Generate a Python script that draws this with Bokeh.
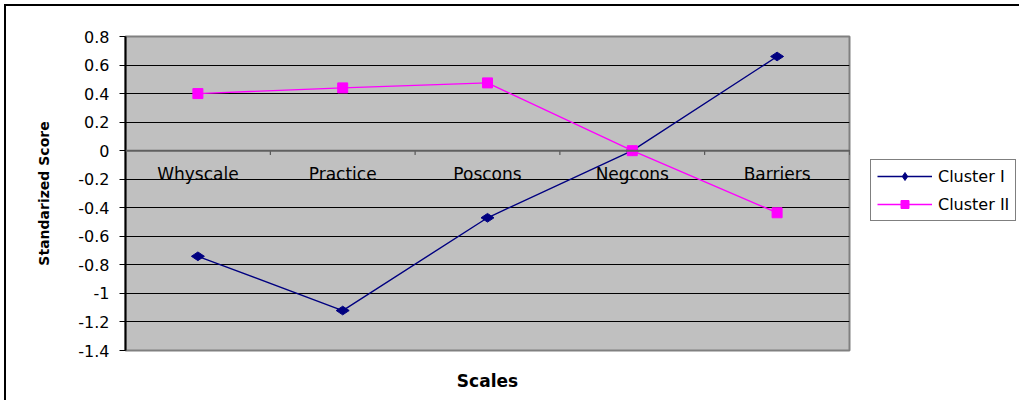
import numpy as np
from bokeh.plotting import figure
from bokeh.models import (ColumnDataSource, FixedTicker, CustomJSTickFormatter, Span,
                          Legend, LegendItem, InlineStyleSheet)
from bokeh.transform import dodge
from bokeh.core.properties import value
from bokeh.embed import file_html
from bokeh.resources import INLINE

# ---- data ----
categories = ["Whyscale", "Practice", "Poscons", "Negcons", "Barriers"]
cluster1 = [-0.74, -1.12, -0.47, 0.0, 0.66]
cluster2 = [0.40, 0.44, 0.475, 0.0, -0.435]
y_ticks = [-1.4, -1.2, -1.0, -0.8, -0.6, -0.4, -0.2, 0.0, 0.2, 0.4, 0.6, 0.8]
series_names = ["Cluster I", "Cluster II"]

src = ColumnDataSource(dict(cat=categories, c1=cluster1, c2=cluster2,
                            zero=[0.0] * len(categories),
                            tick_end=[-0.03] * len(categories)))

FONT = "DejaVu Sans"

p = figure(x_range=categories, y_range=(-1.4, 0.8),
           frame_width=724, frame_height=314,
           output_backend="svg", toolbar_location=None,
           min_border_left=119, min_border_right=158,
           min_border_top=30, min_border_bottom=50)
p.x_range.range_padding = 0
p.stylesheets = [InlineStyleSheet(css=":host { margin-left: 4px; margin-top: 4px; "
                                      "border-left: 2px solid black; border-top: 2px solid black; }")]

p.background_fill_color = "#C0C0C0"
p.border_fill_color = "white"
p.outline_line_color = "#808080"
p.outline_line_width = 2

# y axis
p.yaxis.ticker = FixedTicker(ticks=y_ticks)
p.yaxis.formatter = CustomJSTickFormatter(code="return String(Math.round(tick*10)/10);")
p.yaxis.major_label_text_font = FONT
p.yaxis.major_label_text_font_size = "16px"
p.yaxis.major_label_text_color = "black"
p.yaxis.axis_line_color = "black"
p.yaxis.axis_line_width = 2
p.yaxis.major_tick_out = 6
p.yaxis.major_tick_in = 0
p.yaxis.major_tick_line_color = "black"
p.yaxis.minor_tick_line_color = None
p.yaxis.major_label_standoff = 10
p.yaxis.axis_label = "Standarized Score"
p.yaxis.axis_label_text_font = FONT
p.yaxis.axis_label_text_font_size = "14px"
p.yaxis.axis_label_text_font_style = "bold"
p.yaxis.axis_label_text_color = "black"
p.yaxis.axis_label_standoff = 23

# x axis (only the title)
p.xaxis.axis_label = "Scales"
p.xaxis.axis_label_text_font = FONT
p.xaxis.axis_label_text_font_size = "17px"
p.xaxis.axis_label_text_font_style = "bold"
p.xaxis.axis_label_text_color = "black"
p.xaxis.major_label_text_font_size = "0px"
p.xaxis.major_tick_line_color = None
p.xaxis.minor_tick_line_color = None
p.xaxis.axis_line_color = None
p.xaxis.axis_label_standoff = 14

# grid
p.xgrid.grid_line_color = None
p.ygrid.ticker = FixedTicker(ticks=y_ticks)
p.ygrid.grid_line_color = "black"
p.ygrid.grid_line_width = 1

# zero line (category axis)
p.add_layout(Span(location=0, dimension="width", line_color="#606060", line_width=2))
p.segment(x0=dodge("cat", 0.5, range=p.x_range), y0="zero",
          x1=dodge("cat", 0.5, range=p.x_range), y1="tick_end",
          source=src, line_color="#404040", line_width=1)

# category labels
p.text(x="cat", y="zero", text="cat", source=src, text_align="center",
       text_baseline="middle", y_offset=23, text_font=value(FONT),
       text_font_size="17px", text_color="black")

# series
l1 = p.line("cat", "c1", source=src, line_color="#000080", line_width=1.4)
m1 = p.scatter("cat", "c1", source=src, marker="diamond", angle=np.pi / 2, size=13,
               fill_color="#000080", line_color="#000080")
l2 = p.line("cat", "c2", source=src, line_color="#FF00FF", line_width=1.4)
m2 = p.scatter("cat", "c2", source=src, marker="square", size=10,
               fill_color="#FF00FF", line_color="#FF00FF")

legend = Legend(items=[LegendItem(label=series_names[0], renderers=[l1, m1]),
                       LegendItem(label=series_names[1], renderers=[l2, m2])],
                location=(21, 129))
legend.label_text_font = FONT
legend.label_text_font_size = "16px"
legend.label_text_color = "black"
legend.glyph_width = 55
legend.glyph_height = 20
legend.label_standoff = 6
legend.padding = 6
legend.spacing = 8
legend.margin = 0
legend.border_line_color = "black"
legend.border_line_width = 1
legend.background_fill_color = "white"
legend.background_fill_alpha = 1
p.add_layout(legend, "right")

open("out.html", "w").write(file_html(p, INLINE))
